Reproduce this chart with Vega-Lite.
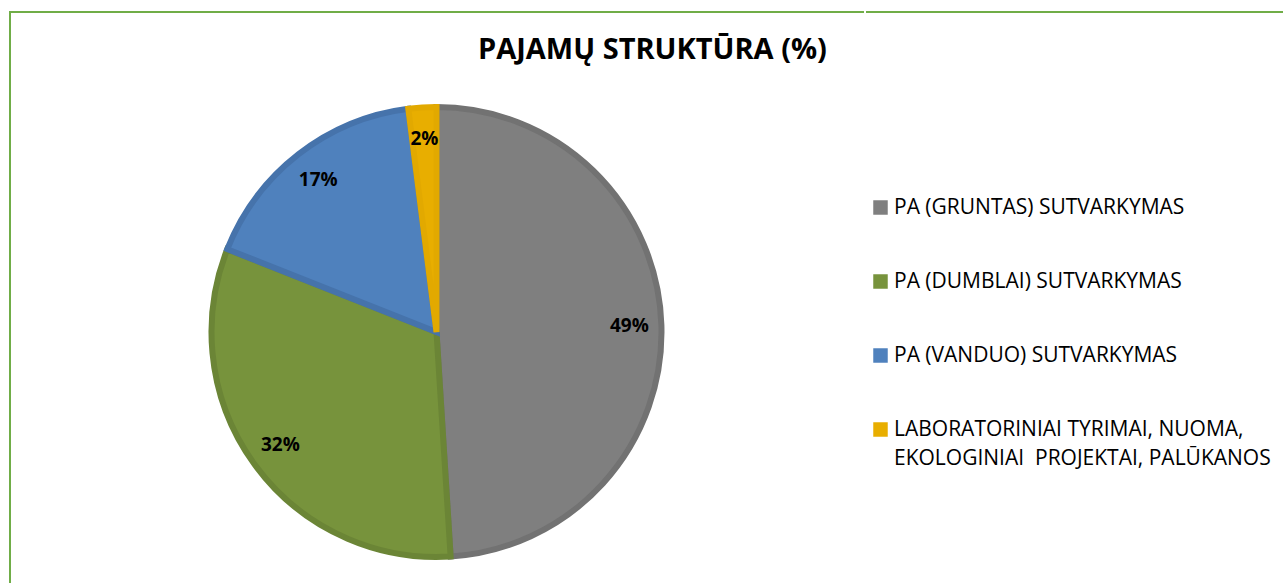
{
  "$schema": "https://vega.github.io/schema/vega-lite/v6.json",
  "autosize": {"type": "pad"},
  "padding": {"left": 8, "top": 10, "right": 0, "bottom": 0},
  "background": "white",
  "spacing": 0,
  "config": {
    "font": "Open Sans",
    "style": {"guide-label": {"lineHeight": 29}}
  },
  "title": {
    "text": "PAJAMŲ STRUKTŪRA (%)",
    "font": "Open Sans",
    "fontSize": 29,
    "fontWeight": "bold",
    "color": "#000000",
    "anchor": "middle",
    "dx": -6,
    "dy": 81,
    "baseline": "alphabetic"
  },
  "data": {
    "values": [
      {"category": "PA (GRUNTAS) SUTVARKYMAS", "share": 0.49, "order": 1},
      {"category": "PA (DUMBLAI) SUTVARKYMAS", "share": 0.32, "order": 2},
      {"category": "PA (VANDUO) SUTVARKYMAS", "share": 0.17, "order": 3},
      {"category": "LABORATORINIAI TYRIMAI, NUOMA, EKOLOGINIAI  PROJEKTAI, PALŪKANOS", "share": 0.02, "order": 4}
    ]
  },
  "hconcat": [
    {
      "width": 853,
      "height": 640,
      "view": {"stroke": "#70ad47", "strokeWidth": 2, "strokeCap": "square", "strokeDash": [853, 640, 5000]},
      "layer": [
        {
          "mark": {"type": "arc", "outerRadius": 225, "strokeWidth": 6},
          "encoding": {
            "theta": {"field": "share", "type": "quantitative", "stack": true},
            "order": {"field": "order", "type": "quantitative"},
            "color": {
              "field": "category",
              "type": "nominal",
              "sort": null,
              "scale": {
                "domain": ["PA (GRUNTAS) SUTVARKYMAS", "PA (DUMBLAI) SUTVARKYMAS", "PA (VANDUO) SUTVARKYMAS", "LABORATORINIAI TYRIMAI, NUOMA, EKOLOGINIAI  PROJEKTAI, PALŪKANOS"],
                "range": ["#7f7f7f", "#77933c", "#4f81bd", "#e8ae00"]
              },
              "legend": {
                "title": null,
                "orient": "none",
                "legendX": 860,
                "legendY": 185,
                "symbolType": "square",
                "symbolSize": 210,
                "symbolStrokeWidth": 0,
                "labelFont": "Open Sans",
                "labelFontSize": 21,
                "labelColor": "#000000",
                "labelOffset": 3,
                "labelLimit": 500,
                "rowPadding": 52,
                "labelExpr": "datum.label == 'LABORATORINIAI TYRIMAI, NUOMA, EKOLOGINIAI  PROJEKTAI, PALŪKANOS' ? ['LABORATORINIAI TYRIMAI, NUOMA,', 'EKOLOGINIAI\u00a0 PROJEKTAI, PALŪKANOS'] : datum.label"
              }
            },
            "stroke": {
              "field": "category",
              "type": "nominal",
              "sort": null,
              "scale": {
                "domain": ["PA (GRUNTAS) SUTVARKYMAS", "PA (DUMBLAI) SUTVARKYMAS", "PA (VANDUO) SUTVARKYMAS", "LABORATORINIAI TYRIMAI, NUOMA, EKOLOGINIAI  PROJEKTAI, PALŪKANOS"],
                "range": ["#727272", "#6b8536", "#4673ab", "#e2a900"]
              },
              "legend": null
            }
          }
        },
        {
          "mark": {"type": "text", "radius": 193, "font": "Open Sans", "fontSize": 19, "fontWeight": "bold", "color": "#000000"},
          "encoding": {
            "theta": {"field": "share", "type": "quantitative", "stack": true},
            "order": {"field": "order", "type": "quantitative"},
            "text": {"field": "share", "type": "quantitative", "format": ".0%"}
          }
        }
      ]
    },
    {
      "width": 440,
      "height": 640,
      "view": {"stroke": "#70ad47", "strokeWidth": 2, "strokeCap": "square", "strokeDash": [440, 5000]},
      "mark": {"type": "text", "opacity": 0},
      "encoding": {}
    }
  ]
}
